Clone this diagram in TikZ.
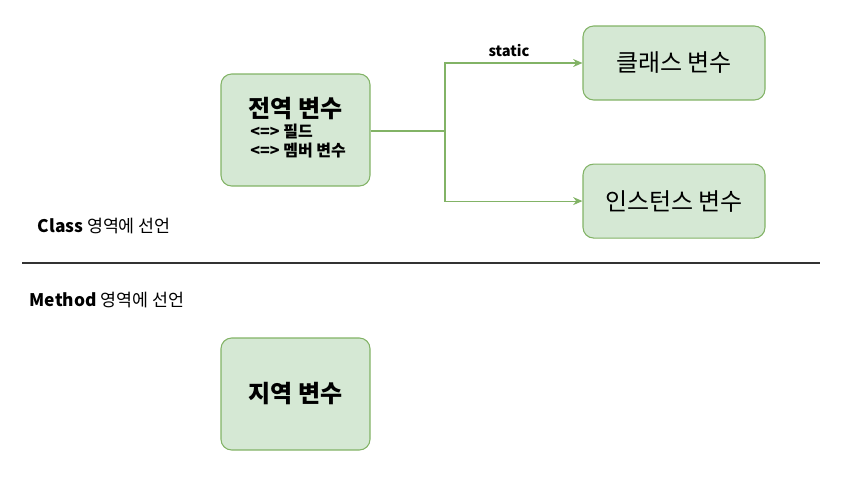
\documentclass[tikz,border=0pt]{standalone}
\usepackage{fontspec}
\setmainfont{Noto Sans CJK KR}
\usetikzlibrary{arrows.meta,positioning}
\definecolor{boxfill}{HTML}{D5E8D4}
\definecolor{boxline}{HTML}{82B366}
\definecolor{rulecolor}{HTML}{333333}

\begin{document}
\begin{tikzpicture}[x=0.75pt, y=-0.75pt,
    var/.style={draw=boxline, fill=boxfill, rounded corners=8pt,
                line width=0.8pt, align=center, inner sep=0pt},
    bigvar/.style={var, minimum width=111.75pt, minimum height=84pt},
    wide/.style={var, font=\fontsize{18}{21}\selectfont,
                 minimum width=136.5pt, minimum height=55.5pt},
    arr/.style={-{Stealth[length=7pt,width=6pt]}, boxline, line width=0.8pt},
    note/.style={font=\fontsize{13}{15}\selectfont, anchor=west}
  ]
    \useasboundingbox (0,0) rectangle (842,479);

    \node[bigvar] (field) at (295.5,130)
      {{\fontsize{18}{21}\selectfont\bfseries 전역 변수}\\[2pt]
       \fontsize{12}{14.5}\selectfont\bfseries
       \hspace*{4pt}\begin{tabular}{@{}l@{}}<=> 필드\\<=> 멤버 변수\end{tabular}};
    \node[wide] (cls)  at (674,63)              {클래스 변수};
    \node[wide] (inst) [below=47.25pt of cls]   {인스턴스 변수};
    \node[bigvar] (local) at (295.5,394)
      {\fontsize{18}{21}\selectfont\bfseries 지역 변수};

    \coordinate (fork) at (445,131);
    \draw[boxline, line width=0.8pt] (field.east |- fork) -- (fork);
    \draw[arr] (fork) |- (cls.west);
    \draw[arr] (fork) |- (inst.west);
    \node[font=\fontsize{11}{13}\selectfont\bfseries] (stat) at (509,51) {static};

    \node[note] (clsnote) at (33,226) {\textbf{Class} 영역에 선언};
    \coordinate (ruleL) at (22,263);
    \coordinate (ruleR) at (820,263);
    \draw[rulecolor, line width=0.8pt] (ruleL) -- (ruleR);
    \node[note] (mthnote) at (25,300) {\textbf{Method} 영역에 선언};
  \end{tikzpicture}
\end{document}
